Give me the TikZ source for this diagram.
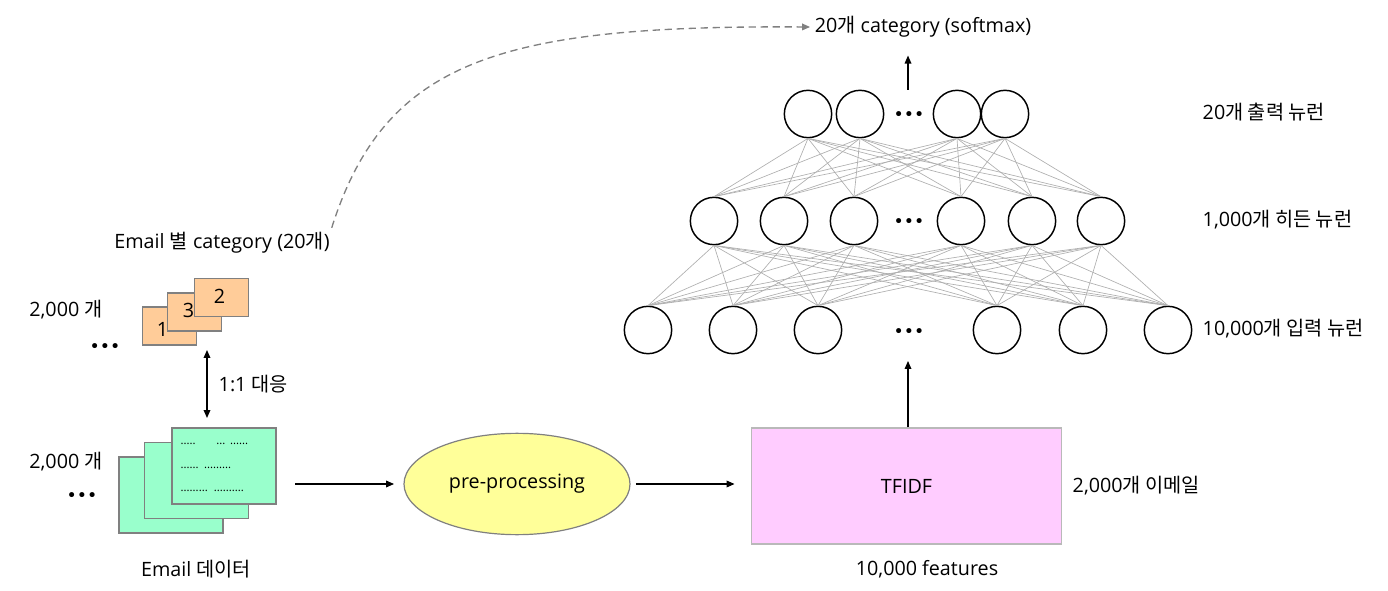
\documentclass[tikz,border=0pt]{standalone}
\usepackage{fontspec}
\setmainfont{Open Sans}
\newfontfamily\kr{Noto Sans CJK KR}
\newfontfamily\dotfont{DejaVu Sans}
\usetikzlibrary{arrows.meta,shapes.geometric}
\definecolor{mailgreen}{RGB}{153,255,204}
\definecolor{catorange}{RGB}{255,204,153}
\definecolor{preyellow}{RGB}{255,255,153}
\definecolor{tfpink}{RGB}{255,204,255}
\definecolor{wiregray}{RGB}{175,175,175}
\definecolor{edgegray}{RGB}{128,128,128}
\begin{document}
\begin{tikzpicture}[x=0.75pt,y=-0.75pt,
    every node/.style={font=\fontsize{14.8}{16}\selectfont},
    neuron/.style={draw,circle,line width=1.1pt,minimum size=35.5pt,inner sep=0pt},
    wire/.style={draw=wiregray,line width=0.5pt},
    arr/.style={-{Triangle[length=6pt,width=5pt]},line width=0.9pt},
    dbl/.style={{Triangle[length=6pt,width=5pt]}-{Triangle[length=6pt,width=5pt]},line width=0.9pt},
    catbox/.style={draw=edgegray,fill=catorange,line width=0.9pt,minimum width=40pt,minimum height=28.5pt,inner sep=0pt},
    mailbox/.style={draw=edgegray,fill=mailgreen,line width=0.9pt,minimum width=78pt,minimum height=57pt,inner sep=0pt},
    leader/.style={anchor=west,inner sep=0pt,font=\fontsize{8.5}{10}\selectfont},
    dots/.style={font=\dotfont\fontsize{13}{14}\selectfont,inner sep=0pt}]
\useasboundingbox (0,0) rectangle (1388,591);

% neurons
\foreach \x [count=\i] in {808,860,957,1005}
    \node[neuron] (o\i) at (\x,114) {};
\foreach \x [count=\i] in {714,784,854,961,1032,1101}
    \node[neuron] (h\i) at (\x,221) {};
\foreach \x [count=\i] in {648,733,818,997,1083,1168}
    \node[neuron] (n\i) at (\x,330) {};
\node[dots] (odots) at (909,116) {•••};
\node[dots] (hdots) at (909,223) {•••};
\node[dots] (ndots) at (909,333) {•••};

% weights
\foreach \i in {1,...,4}
    \foreach \j in {1,...,6}
        \draw[wire] (o\i.south) -- (h\j.north);
\foreach \i in {1,...,6}
    \foreach \j in {1,...,6}
        \draw[wire] (h\i.south) -- (n\j.north);

\node[anchor=west] (olabel) at (1198,112) {20{\kr 개 출력 뉴런}};
\node[anchor=west] (hlabel) at (1198,220) {1,000{\kr 개 히든 뉴런}};
\node[anchor=west] (nlabel) at (1198,329) {10,000{\kr 개 입력 뉴런}};

% output
\node (softmax) at (923,27) {20{\kr 개} category (softmax)};
\coordinate (outTail) at (908,90);
\draw[arr,shorten >=10pt] (outTail) -- (outTail |- softmax.south);

% tfidf
\node[draw=gray!55,fill=tfpink,line width=0.9pt,minimum width=233pt,minimum height=87pt] (tfidf) at (906.5,486) {TFIDF};
\node (feat) at (927,569) {10,000 features};
\node[anchor=west] (nmail) at (1068,486) {2,000{\kr 개 이메일}};
\coordinate (inTip) at (908,361);
\draw[arr] (tfidf.north -| inTip) -- (inTip);

% pre-processing
\node[ellipse,draw=edgegray,fill=preyellow,line width=0.9pt,inner sep=0pt,minimum width=169.5pt,minimum height=76pt] (pre) at (517,484) {pre-processing};
\draw[arr,shorten <=4pt,shorten >=12pt] (pre.east) -- (tfidf.west |- pre.east);

% email data
\node[mailbox] (mail1) at (171,495) {};
\node[mailbox] (mail2) at (196.5,480.5) {};
\node[mailbox] (mail3) at (224,466) {};
\node[leader] at ([shift={(9,-22)}]mail3.west) {.....\hspace{15.5pt}...\hspace{3.5pt}......};
\node[leader] at ([shift={(9,2)}]mail3.west) {......\hspace{4pt}.........};
\node[leader] at ([shift={(9,25)}]mail3.west) {.........\hspace{4.5pt}..........};
\node (mlabel) at (196,569) {Email {\kr 데이터}};
\node (mcount) at (66,462) {2,000 {\kr 개}};
\node[dots] (mdots) at (82,497) {•••};
\draw[arr,shorten <=14pt,shorten >=7pt] (mail3.east |- pre.west) -- (pre.west);

% categories
\node[catbox] (cat1) at (169.5,326) {};
\node[catbox] (cat3) at (194.5,312) {};
\node[catbox] (cat2) at (221.5,297.5) {};
\node at ([shift={(-7,3)}]cat1.center) {1};
\node at ([shift={(-6,-2)}]cat3.center) {3};
\node at ([shift={(-2,-1)}]cat2.center) {2};
\node (ccount) at (66,310) {2,000 {\kr 개}};
\node[dots] (cdots) at (105,348) {•••};
\node (clabel) at (222,243) {Email {\kr 별} category (20{\kr 개})};

\coordinate (pairTop) at (207,350);
\coordinate (pairBot) at (207,418);
\draw[dbl] (pairTop) -- (pairBot) node[midway,right=5pt] {1:1 {\kr 대응}};

\draw[arr,draw=edgegray,dash pattern=on 5.5pt off 3.5pt,line width=1pt] ([xshift=-2pt]clabel.north east) .. controls (385,60) and (500,25) .. (softmax.west);
\end{tikzpicture}
\end{document}
